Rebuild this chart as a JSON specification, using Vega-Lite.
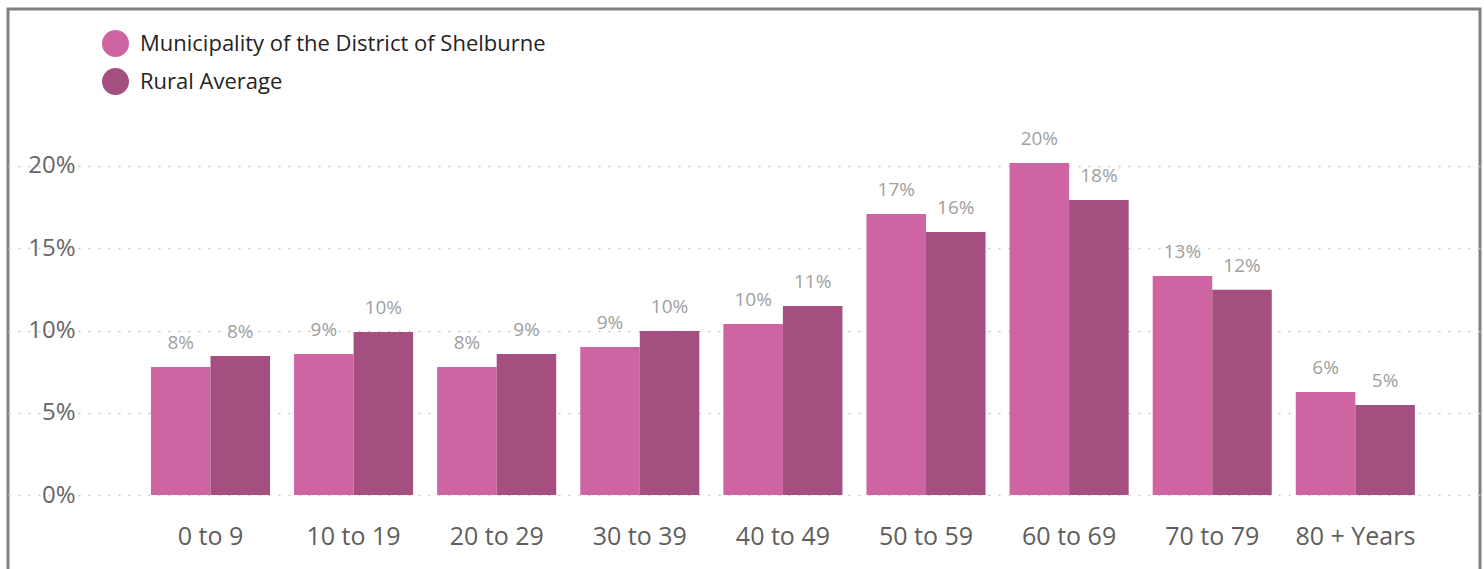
{
  "$schema": "https://vega.github.io/schema/vega-lite/v6.json",
  "autosize": {"type": "none"},
  "width": 1472,
  "height": 571,
  "padding": {"left": 8, "top": 9, "right": 4, "bottom": 0},
  "background": "white",
  "config": {"view": {"stroke": "#808080", "strokeWidth": 3}, "font": "Open Sans"},
  "data": {
    "values": [
      {"age": "0 to 9", "series": "Municipality of the District of Shelburne", "value": 0.0778},
      {"age": "0 to 9", "series": "Rural Average", "value": 0.0845},
      {"age": "10 to 19", "series": "Municipality of the District of Shelburne", "value": 0.0857},
      {"age": "10 to 19", "series": "Rural Average", "value": 0.0991},
      {"age": "20 to 29", "series": "Municipality of the District of Shelburne", "value": 0.0778},
      {"age": "20 to 29", "series": "Rural Average", "value": 0.0857},
      {"age": "30 to 39", "series": "Municipality of the District of Shelburne", "value": 0.0900},
      {"age": "30 to 39", "series": "Rural Average", "value": 0.0997},
      {"age": "40 to 49", "series": "Municipality of the District of Shelburne", "value": 0.1040},
      {"age": "40 to 49", "series": "Rural Average", "value": 0.1149},
      {"age": "50 to 59", "series": "Municipality of the District of Shelburne", "value": 0.1708},
      {"age": "50 to 59", "series": "Rural Average", "value": 0.1599},
      {"age": "60 to 69", "series": "Municipality of the District of Shelburne", "value": 0.2018},
      {"age": "60 to 69", "series": "Rural Average", "value": 0.1793},
      {"age": "70 to 79", "series": "Municipality of the District of Shelburne", "value": 0.1331},
      {"age": "70 to 79", "series": "Rural Average", "value": 0.1248},
      {"age": "80 + Years", "series": "Municipality of the District of Shelburne", "value": 0.0626},
      {"age": "80 + Years", "series": "Rural Average", "value": 0.0547}
    ]
  },
  "encoding": {
    "x": {
      "field": "age", "type": "nominal", "sort": null,
      "scale": {"paddingInner": 0.168, "paddingOuter": 0.727, "align": 0.687, "round": false},
      "axis": {"orient": "bottom", "offset": -44, "domain": false, "ticks": false, "tickSize": 0, "labelPadding": 0, "labelBaseline": "middle", "labelFontSize": 25, "labelColor": "#605E5C", "title": null, "grid": false, "labelAngle": 0}
    },
    "xOffset": {"field": "series", "type": "nominal", "sort": null, "scale": {"paddingInner": 0, "paddingOuter": 0}},
    "y": {
      "field": "value", "type": "quantitative",
      "scale": {"domain": [-0.05167, 0.29544], "nice": false, "zero": false},
      "axis": {"values": [0, 0.05, 0.1, 0.15, 0.2], "format": ".0%", "offset": -80, "domain": false, "ticks": false, "tickSize": 0, "labelPadding": 13, "labelFontSize": 24, "labelColor": "#666666", "title": null, "grid": true, "gridDash": [2, 8], "gridColor": "#c8c8c8", "gridWidth": 1.5}
    }
  },
  "layer": [
    {
      "mark": {"type": "bar"},
      "encoding": {
        "y2": {"datum": 0},
        "color": {
          "field": "series", "type": "nominal", "sort": null,
          "scale": {"range": ["#CF64A2", "#A54F80"]},
          "legend": {"orient": "none", "legendX": 94, "legendY": 21, "title": null, "symbolType": "circle", "symbolSize": 729, "symbolStrokeWidth": 0, "symbolOpacity": 1, "labelFontSize": 22, "labelColor": "#252423", "labelOffset": 11, "rowPadding": 11, "direction": "vertical", "labelLimit": 0}
        }
      }
    },
    {
      "mark": {"type": "text", "baseline": "alphabetic", "dy": -18, "fontSize": 19, "color": "#A0A0A0"},
      "encoding": {"text": {"field": "value", "type": "quantitative", "format": ".0%"}}
    }
  ]
}
